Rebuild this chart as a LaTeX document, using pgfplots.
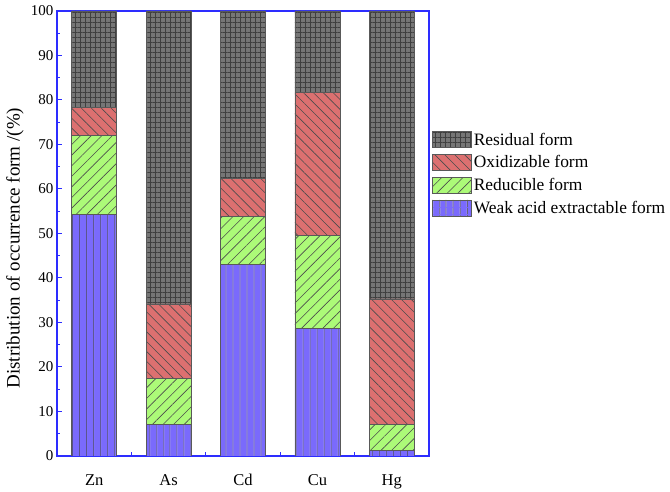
\documentclass[border=0pt]{standalone}
\usepackage{fontspec}
\setmainfont{Liberation Serif}
\usepackage{pgfplots}
\pgfplotsset{compat=1.18}
\usetikzlibrary{patterns.meta}
\definecolor{cRes}{RGB}{118,118,118}
\definecolor{cOx}{RGB}{220,112,112}
\definecolor{cRed}{RGB}{172,250,120}
\definecolor{cWeak}{RGB}{122,106,252}
\definecolor{cAx}{RGB}{45,45,255}
\begin{document}
\begin{tikzpicture}
\begin{axis}[
  scale only axis, width=372pt, height=445pt,
  ybar stacked, bar width=45pt,
  xmin=-0.5, xmax=4.5, ymin=0, ymax=100,
  xtick={0,1,2,3,4}, xticklabels={Zn,As,Cd,Cu,Hg},
  minor xtick={0.5,1.5,2.5,3.5},
  ytick={0,10,...,100}, minor y tick num=1,
  tick pos=left, tick align=inside,
  major tick length=5pt, minor tick length=3.5pt,
  axis line style={draw=cAx, line width=1.3pt},
  every tick/.style={cAx, line width=1pt},
  /pgf/number format/assume math mode=true,
  y tick label style={font=\fontsize{15}{18}\selectfont},
  x tick label style={font=\fontsize{16.5}{19}\selectfont, yshift=-15pt},
  ylabel={Distribution of occurrence form /(\%)},
  every axis y label/.style={at={(axis description cs:0,0.467)}, xshift=-42pt, rotate=90, anchor=center, font=\fontsize{19}{22}\selectfont},
  reverse legend,
  legend cell align=left,
  legend image code/.code={\draw[#1] (0pt,-8pt) rectangle (39pt,8pt);},
  legend style={at={(1,0.634)}, anchor=west, xshift=3pt, draw=none, fill=none,
    font=\fontsize{17.4}{19}\selectfont, row sep=5pt, inner sep=0pt,
    nodes={inner sep=2pt}},
]
\addplot[fill=cWeak, draw=black!65, line width=0.6pt,
  postaction={pattern={Lines[angle=90,distance=7.4pt,line width=0.7pt]}, pattern color=black!75}]
  coordinates {(0,54.3) (1,7.1) (2,43.0) (3,28.7) (4,1.3)};
\addplot[fill=cRed, draw=black!65, line width=0.6pt,
  postaction={pattern={Lines[angle=45,distance=7.5pt,line width=0.6pt]}, pattern color=black!70}]
  coordinates {(0,17.8) (1,10.4) (2,10.8) (3,20.8) (4,5.8)};
\addplot[fill=cOx, draw=black!65, line width=0.6pt,
  postaction={pattern={Lines[angle=-45,distance=7pt,line width=0.6pt]}, pattern color=black!70}]
  coordinates {(0,6.3) (1,16.7) (2,8.5) (3,32.2) (4,28.2)};
\addplot[fill=cRes, draw=black!65, line width=0.6pt,
  postaction={pattern={Hatch[angle=0,distance=5pt,line width=0.5pt]}, pattern color=black!75}]
  coordinates {(0,21.6) (1,65.8) (2,37.7) (3,18.3) (4,64.7)};
\legend{Weak acid extractable form, Reducible form, Oxidizable form, Residual form}
\end{axis}
\pgfresetboundingbox
\path (-57pt,-36pt) rectangle (613pt,456pt);
\end{tikzpicture}
\end{document}
